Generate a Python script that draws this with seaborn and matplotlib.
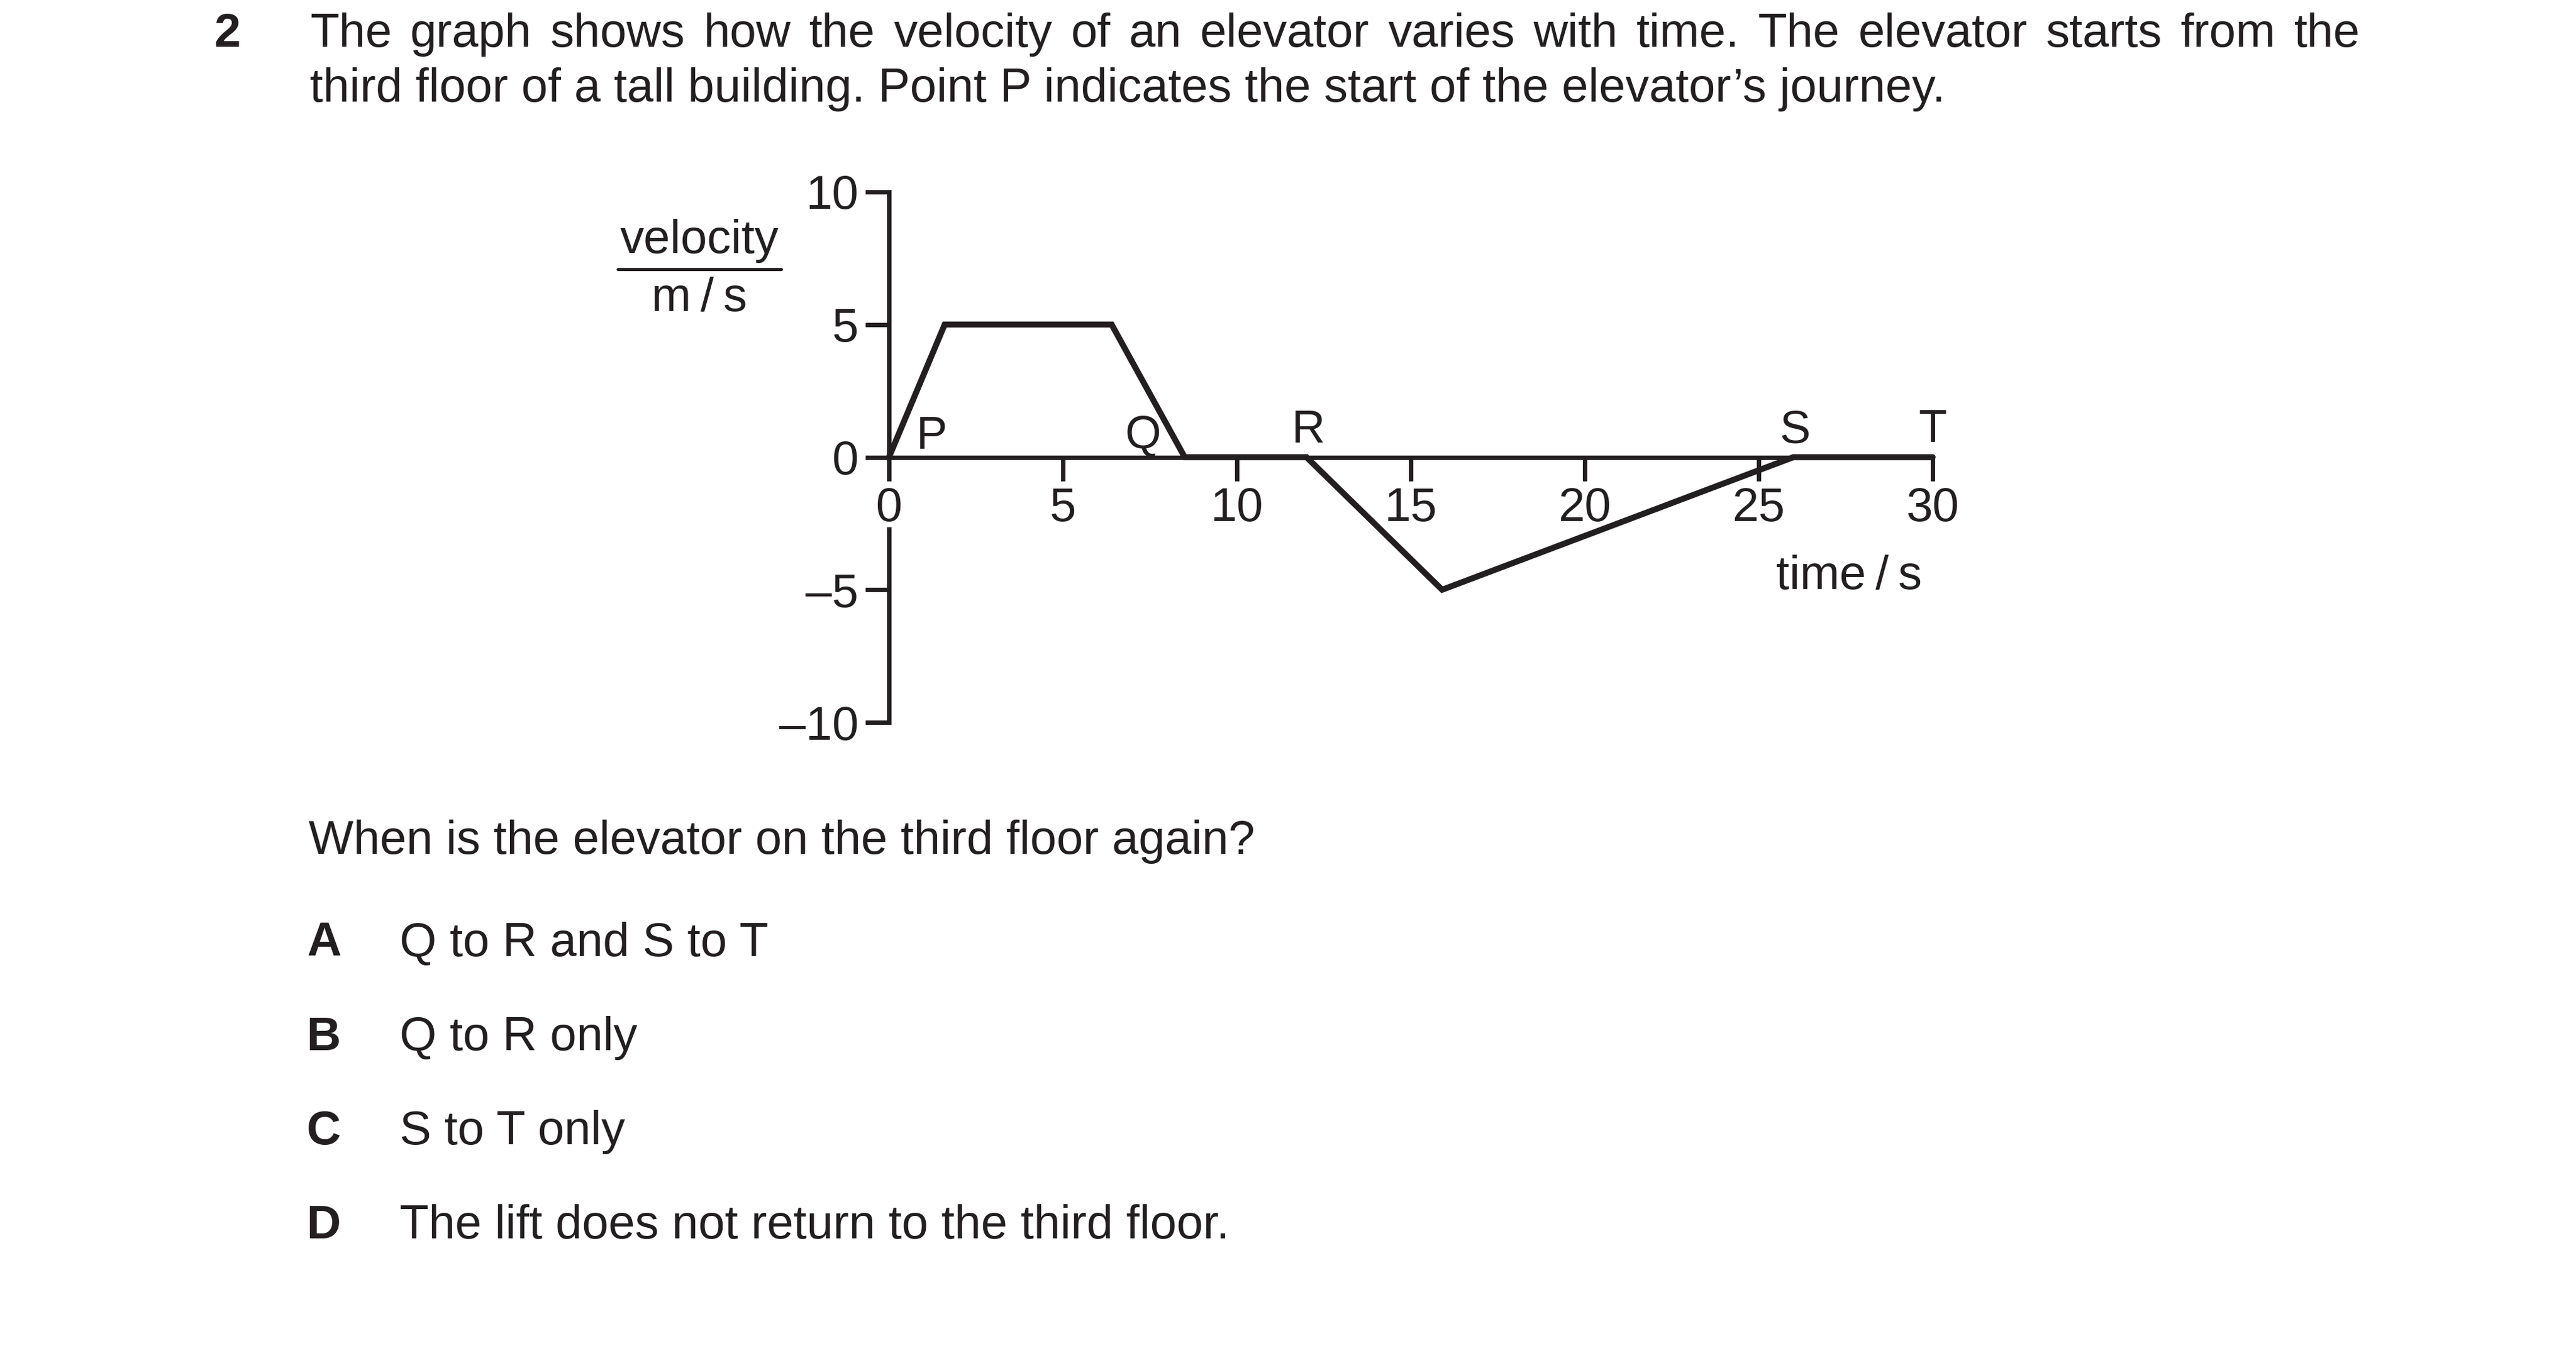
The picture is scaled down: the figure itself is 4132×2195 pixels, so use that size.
import seaborn as sns
import matplotlib.pyplot as plt
from matplotlib.lines import Line2D
import pandas as pd

# velocity-time graph of the elevator
time_s = [0, 1.6, 6.4, 8.5, 12, 15.9, 26, 30]
velocity = [0, 5, 5, 0, 0, -5, 0, 0]

x_ticks = [0, 5, 10, 15, 20, 25, 30]
y_ticks = [-10, -5, 0, 5, 10]
y_tick_labels = ["\u201310", "\u20135", "0", "5", "10"]

point_names = ["P", "Q", "R", "S", "T"]

question_lines = [
    "The graph shows how the velocity of an elevator varies with time. The elevator starts from the",
    "third floor of a tall building. Point P indicates the start of the elevator\u2019s journey.",
]
prompt = "When is the elevator on the third floor again?"
option_letters = ["A", "B", "C", "D"]
option_texts = ["Q to R and S to T", "Q to R only", "S to T only",
                "The lift does not return to the third floor."]

df = pd.DataFrame({"time": time_s, "velocity": velocity})

sns.set_theme(style="white")
plt.rcParams["font.family"] = ["Liberation Sans", "DejaVu Sans"]
ink = "#231f20"
fs = 18.3
W, H = 4132, 2195
fig = plt.figure(figsize=(W / 300, H / 300), dpi=300)

def px(x, y):
    return x / W, 1 - y / H

# axes placed so that t=0..30 and v=-10..10 land where they are in the paper
x0, yt = px(1426, 308)
x1, yb = px(3100, 1159)
ax = fig.add_axes([x0, yb, x1 - x0, yt - yb])

sns.lineplot(data=df, x="time", y="velocity", sort=False, estimator=None,
             color=ink, linewidth=2.3, ax=ax, clip_on=False,
             solid_joinstyle="miter", zorder=5)

ax.set_xlim(0, 30)
ax.set_ylim(-10, 10)
lw = 1.7
for s in ["top", "right"]:
    ax.spines[s].set_visible(False)
ax.spines["bottom"].set_position(("data", 0))
ax.spines["bottom"].set_bounds(0, 30)
ax.spines["left"].set_bounds(0, 10)
for s in ["bottom", "left"]:
    ax.spines[s].set_color(ink)
    ax.spines[s].set_linewidth(lw)
# lower part of the velocity axis, broken around the "0" label
ax.plot([0, 0], [-2.71, -10], color=ink, lw=lw, clip_on=False,
        solid_capstyle="projecting")

ax.set_xticks(x_ticks)
ax.set_xticklabels([str(t) for t in x_ticks])
ax.set_yticks(y_ticks)
ax.set_yticklabels(y_tick_labels)
ax.tick_params(axis="both", direction="out", length=9.1, width=lw, color=ink,
               labelcolor=ink, labelsize=fs, bottom=True, left=True)
ax.tick_params(axis="x", pad=2.2)
ax.tick_params(axis="y", pad=2.6)
ax.set_xlabel("")
ax.set_ylabel("")
ax.patch.set_alpha(0)

label_pos = [(0.79, 0.32, "left"), (7.3, 0.34, "center"), (12.05, 0.55, "center"),
             (26.05, 0.55, "center"), (30, 0.57, "center")]
for name, (lx, ly, ha) in zip(point_names, label_pos):
    ax.text(lx, ly, name, ha=ha, va="baseline", fontsize=fs - 0.5, color=ink)

ax.text(27.6, -4.98, "time\u2009/\u2009s", ha="center", va="baseline",
        fontsize=fs, color=ink)

# velocity / (m/s) label
cx, vy = px(1122, 406)
fig.text(cx, vy, "velocity", ha="center", va="baseline", fontsize=fs, color=ink)
fig.text(cx, px(0, 499)[1], "m\u2009/\u2009s", ha="center", va="baseline",
         fontsize=fs, color=ink)
lx0, ly = px(991, 432)
lx1, _ = px(1253, 432)
fig.add_artist(Line2D([lx0, lx1], [ly, ly], transform=fig.transFigure,
                      color=ink, lw=1.2))

# question text
fig.text(*px(343, 75), "2", fontsize=fs, fontweight="bold", color=ink, va="baseline")

renderer = fig.canvas.get_renderer()
words = question_lines[0].split(" ")
arts = [fig.text(0, px(0, 75)[1], w, fontsize=fs, color=ink, va="baseline") for w in words]
widths = [a.get_window_extent(renderer=renderer).width for a in arts]
left, right = 497, 3786
gap = (right - left - sum(widths)) / (len(words) - 1)
xpos = left
for a, w in zip(arts, widths):
    a.set_x(xpos / W)
    xpos += w + gap

fig.text(*px(497, 163), question_lines[1], fontsize=fs, color=ink, va="baseline")
fig.text(*px(495, 1370), prompt, fontsize=fs, color=ink, va="baseline")

option_base = [1533, 1685, 1836, 1987]
for letter, text, yb_px in zip(option_letters, option_texts, option_base):
    fig.text(*px(492, yb_px), letter, fontsize=fs, fontweight="bold", color=ink,
             va="baseline")
    fig.text(*px(641, yb_px), text, fontsize=fs, color=ink, va="baseline")

fig.savefig("out.png", dpi=300, facecolor="white")
